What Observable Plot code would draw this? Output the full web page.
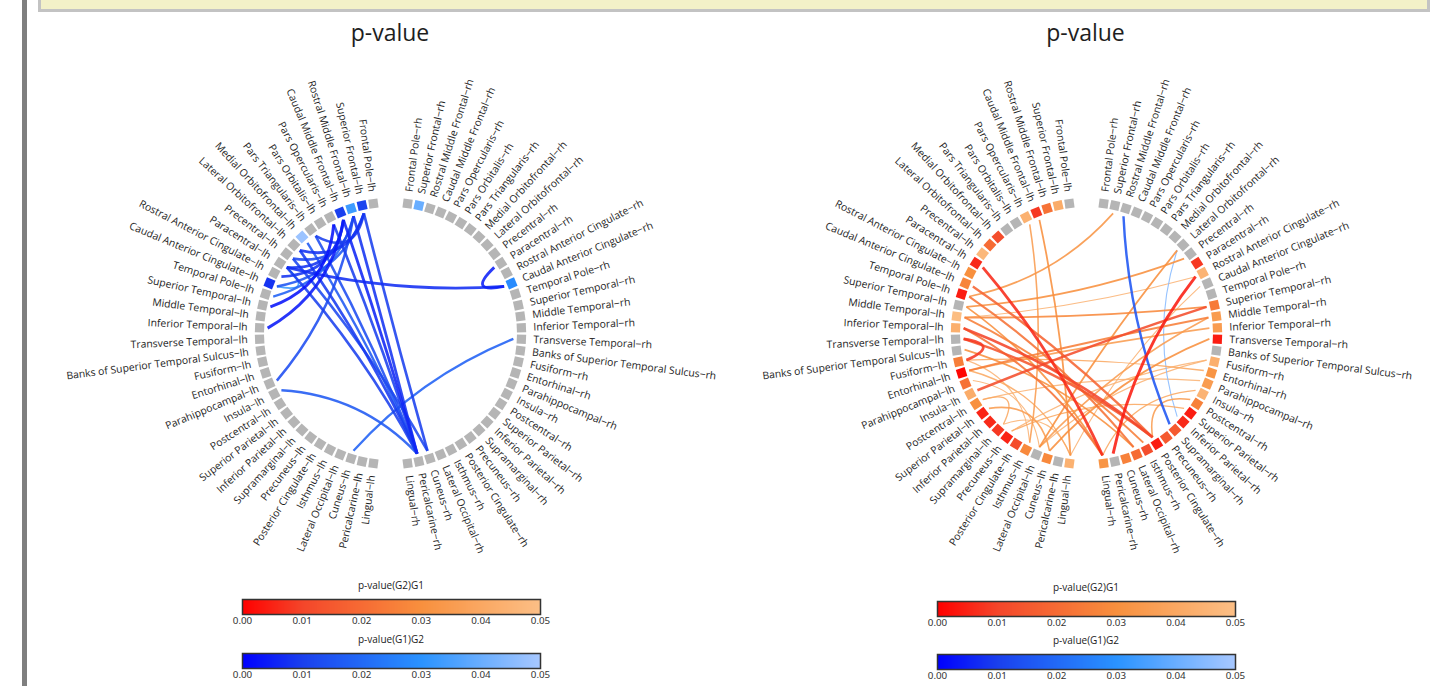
<!DOCTYPE html>
<html><head><meta charset="utf-8">
<script src="https://cdn.jsdelivr.net/npm/d3@7"></script>
<script src="https://cdn.jsdelivr.net/npm/@observablehq/plot@0.6"></script>
<style>
body{margin:0;width:1430px;height:686px;overflow:hidden;background:#fff;font-family:"Open Sans",sans-serif;position:relative}
#sidebar{position:absolute;left:22px;top:0;width:5px;height:686px;background:#7f7f7f}
#topbox{position:absolute;left:38px;top:-10px;width:1392px;height:22px;box-sizing:border-box;background:#f3f1c8;border:3px solid #c3c3c3}
.abs{position:absolute}
.title{position:absolute;width:300px;text-align:center;font-size:23px;color:#1e1e1e;line-height:30px}
.ltitle{position:absolute;width:328px;text-align:center;font-size:10px;color:#222;line-height:12px}
</style></head><body>
<div id="sidebar"></div><div id="topbox"></div>
<div class="title" style="left:240px;top:17px">p-value</div>
<div class="title" style="left:935.5px;top:17px">p-value</div>
<div id="chartL" class="abs" style="left:40px;top:73px"></div>
<div id="chartR" class="abs" style="left:735.5px;top:73px"></div>
<div class="ltitle" style="left:227px;top:579px">p-value(G2)G1</div>
<div id="legL1" class="abs" style="left:227px;top:599px"></div>
<div class="ltitle" style="left:227px;top:633px">p-value(G1)G2</div>
<div id="legL2" class="abs" style="left:227px;top:653px"></div>
<div class="ltitle" style="left:922px;top:581px">p-value(G2)G1</div>
<div id="legR1" class="abs" style="left:922px;top:601px"></div>
<div class="ltitle" style="left:922px;top:634px">p-value(G1)G2</div>
<div id="legR2" class="abs" style="left:922px;top:654px"></div>
<script>
// ---------------- data ----------------
const regions = ["Frontal Pole","Superior Frontal","Rostral Middle Frontal","Caudal Middle Frontal","Pars Opercularis","Pars Orbitalis","Pars Triangularis","Medial Orbitofrontal","Lateral Orbitofrontal","Precentral","Paracentral","Rostral Anterior Cingulate","Caudal Anterior Cingulate","Temporal Pole","Superior Temporal","Middle Temporal","Inferior Temporal","Transverse Temporal","Banks of Superior Temporal Sulcus","Fusiform","Entorhinal","Parahippocampal","Insula","Postcentral","Superior Parietal","Inferior Parietal","Supramarginal","Precuneus","Posterior Cingulate","Isthmus","Lateral Occipital","Cuneus","Pericalcarine","Lingual"];
const hemispheres = ["lh","rh"];
const legendTicks = [0, 0.01, 0.02, 0.03, 0.04, 0.05];
const pStops = [0, 0.01, 0.03, 0.05];
const redStops = ["#ff0000","#f4462a","#f8903e","#fcbf86"];
const blueStops = ["#0000ff","#1a40ee","#2a93ff","#a8c8ff"];

// node p-values (null = not significant), left chart: G1>G2
const leftNodesLh = [null,0.011,0.033,0.010,null,null,null,0.048,null,null,null,null,0.008,null,null,null,null,null,null,null,null,null,null,null,null,null,null,null,null,null,null,null,null,null];
const leftNodesRh = [null,0.040,null,null,null,null,null,null,null,null,null,null,0.028,null,null,null,null,null,null,null,null,null,null,null,null,null,null,null,null,null,null,null,null,null];
const leftNodeDir = "G1>G2";
// right chart: G2>G1
const rightNodesLh = [null,0.042,0.022,0.008,0.044,null,null,0.012,0.020,0.047,0.006,0.030,0.027,0.004,null,0.049,0.043,null,null,0.025,0.001,0.022,0.042,0.030,0.005,0.006,0.008,0.005,0.012,0.028,null,0.028,null,0.044];
const rightNodesRh = [null,null,null,null,null,null,null,null,null,null,0.008,0.045,null,null,0.024,0.035,0.035,0.004,null,0.043,0.032,0.035,0.045,0.026,0.004,0.006,0.015,0.015,0.004,0.012,0.020,0.026,null,0.032];
const rightNodeDir = "G2>G1";

// links: [source, target, p-value, direction]
const leftLinks = [
["Superior Frontal-lh","Cuneus-rh",0.010,"G1>G2"],
["Rostral Middle Frontal-lh","Pericalcarine-rh",0.008,"G1>G2"],
["Caudal Middle Frontal-lh","Pericalcarine-rh",0.006,"G1>G2"],
["Pars Opercularis-lh","Pericalcarine-rh",0.010,"G1>G2"],
["Pars Triangularis-lh","Pericalcarine-rh",0.013,"G1>G2"],
["Medial Orbitofrontal-lh","Pericalcarine-rh",0.016,"G1>G2"],
["Lateral Orbitofrontal-lh","Pericalcarine-rh",0.009,"G1>G2"],
["Precentral-lh","Cuneus-rh",0.012,"G1>G2"],
["Paracentral-lh","Pericalcarine-rh",0.010,"G1>G2"],
["Insula-lh","Pericalcarine-rh",0.016,"G1>G2"],
["Superior Temporal-lh","Pars Opercularis-lh",0.003,"G1>G2"],
["Inferior Temporal-lh","Caudal Middle Frontal-lh",0.004,"G1>G2"],
["Parahippocampal-lh","Rostral Middle Frontal-lh",0.013,"G1>G2"],
["Paracentral-lh","Caudal Anterior Cingulate-rh",0.007,"G1>G2"],
["Caudal Anterior Cingulate-rh","Paracentral-rh",0.005,"G1>G2"],
["Cuneus-lh","Transverse Temporal-rh",0.018,"G1>G2"],
["Caudal Anterior Cingulate-lh","Paracentral-lh",0.032,"G1>G2"],
["Superior Frontal-lh","Lateral Orbitofrontal-lh",0.008,"G1>G2"],
["Superior Frontal-lh","Pars Triangularis-lh",0.010,"G1>G2"],
["Caudal Middle Frontal-lh","Rostral Anterior Cingulate-lh",0.008,"G1>G2"],
["Rostral Middle Frontal-lh","Precentral-lh",0.012,"G1>G2"],
["Caudal Middle Frontal-lh","Paracentral-lh",0.008,"G1>G2"],
["Superior Frontal-lh","Caudal Anterior Cingulate-lh",0.015,"G1>G2"],
["Rostral Middle Frontal-lh","Temporal Pole-lh",0.018,"G1>G2"]
];
const rightLinks = [
["Superior Frontal-rh","Temporal Pole-lh",0.032,"G2>G1"],
["Pars Opercularis-lh","Isthmus-lh",0.035,"G2>G1"],
["Paracentral-lh","Lingual-rh",0.006,"G2>G1"],
["Rostral Anterior Cingulate-rh","Pericalcarine-rh",0.004,"G2>G1"],
["Lateral Orbitofrontal-rh","Lateral Occipital-lh",0.030,"G2>G1"],
["Middle Temporal-lh","Superior Temporal-rh",0.028,"G2>G1"],
["Inferior Temporal-lh","Posterior Cingulate-rh",0.010,"G2>G1"],
["Transverse Temporal-lh","Posterior Cingulate-rh",0.014,"G2>G1"],
["Insula-lh","Superior Temporal-rh",0.012,"G2>G1"],
["Superior Temporal-lh","Precentral-rh",0.030,"G2>G1"],
["Transverse Temporal-lh","Fusiform-lh",0.008,"G2>G1"],
["Caudal Anterior Cingulate-rh","Lingual-lh",0.045,"G2>G1"],
["Middle Temporal-rh","Lateral Occipital-lh",0.035,"G2>G1"],
["Transverse Temporal-rh","Cuneus-lh",0.030,"G2>G1"],
["Fusiform-rh","Lateral Occipital-lh",0.045,"G2>G1"],
["Entorhinal-rh","Fusiform-lh",0.040,"G2>G1"],
["Parahippocampal-rh","Postcentral-lh",0.045,"G2>G1"],
["Insula-rh","Lingual-rh",0.040,"G2>G1"],
["Entorhinal-lh","Lingual-lh",0.040,"G2>G1"],
["Parahippocampal-lh","Lateral Occipital-lh",0.045,"G2>G1"],
["Fusiform-lh","Isthmus-lh",0.045,"G2>G1"],
["Postcentral-lh","Supramarginal-lh",0.040,"G2>G1"],
["Superior Parietal-lh","Cuneus-lh",0.035,"G2>G1"],
["Middle Temporal-lh","Isthmus-rh",0.025,"G2>G1"],
["Inferior Temporal-lh","Lingual-rh",0.022,"G2>G1"],
["Superior Temporal-lh","Lingual-rh",0.030,"G2>G1"],
["Temporal Pole-lh","Lateral Occipital-rh",0.022,"G2>G1"],
["Caudal Anterior Cingulate-lh","Posterior Cingulate-rh",0.018,"G2>G1"],
["Inferior Temporal-rh","Entorhinal-lh",0.035,"G2>G1"],
["Superior Parietal-rh","Precuneus-lh",0.040,"G2>G1"],
["Caudal Middle Frontal-lh","Lingual-lh",0.030,"G2>G1"],
["Rostral Anterior Cingulate-rh","Middle Temporal-lh",0.045,"G2>G1"],
["Supramarginal-lh","Lingual-lh",0.045,"G2>G1"],
["Banks of Superior Temporal Sulcus-lh","Lateral Occipital-rh",0.030,"G2>G1"],
["Postcentral-rh","Posterior Cingulate-rh",0.035,"G2>G1"],
["Entorhinal-lh","Middle Temporal-rh",0.025,"G2>G1"],
["Precuneus-lh","Fusiform-rh",0.045,"G2>G1"],
["Rostral Middle Frontal-rh","Supramarginal-rh",0.015,"G1>G2"],
["Lateral Orbitofrontal-rh","Inferior Parietal-rh",0.045,"G1>G2"]
];

// ---------------- layout ----------------
const W = 700, H = 520, STEP = 5, GAP = 15;
const R_NODE = 131, R_LABEL = 143, R_LINK = 123, BEND = 0.7;
const redInterp = d3.scaleLinear(pStops, redStops).clamp(true);
const blueInterp = d3.scaleLinear(pStops, blueStops).clamp(true);
// one signed scale: negative = G1>G2 (blue), positive = G2>G1 (red)
const signedInterp = t => { const v = t * 0.1 - 0.05; return v < 0 ? blueInterp(-v) : redInterp(v); };
const signed = (p, dir) => dir === "G1>G2" ? -p : p;

function angleOf(name) {
  const hemi = name.slice(-2), i = regions.indexOf(name.slice(0, -3));
  return (hemi === "lh" ? -1 : 1) * (GAP / 2 + STEP * i);
}
function polar(theta, r) {
  const t = theta * Math.PI / 180;
  return [r * Math.sin(t), -r * Math.cos(t)];
}
function buildNodes(lh, rh, dir) {
  const out = [];
  hemispheres.forEach(h => regions.forEach((reg, i) => {
    const name = reg + "-" + h, theta = angleOf(name), p = (h === "lh" ? lh : rh)[i];
    const [x, y] = polar(theta, R_NODE), [lx, ly] = polar(theta, R_LABEL);
    out.push({name, hemi: h, theta, x, y, lx, ly, p, v: p == null ? null : signed(p, dir),
      label: name.replace(/-(lh|rh)$/, "\u2212$1"), rot: h === "lh" ? theta + 90 : theta - 90});
  }));
  return out;
}
function buildLinks(links) {
  return links.map(([s, t, p, dir]) => {
    const [x1, y1] = polar(angleOf(s), R_LINK), [x2, y2] = polar(angleOf(t), R_LINK);
    return {s, t, p, x1, y1, x2, y2, v: signed(p, dir), w: 0.9 + (0.05 - p) * 44};
  }).sort((a, b) => b.p - a.p);
}
function chordCurve(context) {
  let pts = [];
  return {
    areaStart() {}, areaEnd() {},
    lineStart() { pts = []; },
    point(x, y) { pts.push([x, y]); },
    lineEnd() {
      const [[x1, y1], [x2, y2]] = pts, cx = W / 2, cy = H / 2;
      const mx = (x1 + x2) / 2, my = (y1 + y2) / 2;
      context.moveTo(x1, y1);
      context.quadraticCurveTo(cx + BEND * (mx - cx), cy + BEND * (my - cy), x2, y2);
    }
  };
}
function chart(nodes, links) {
  const sig = nodes.filter(d => d.v != null), ns = nodes.filter(d => d.v == null);
  return Plot.plot({
    width: W, height: H, margin: 0,
    style: {background: "transparent", overflow: "visible", maxWidth: "none"},
    x: {domain: [-W / 2, W / 2], axis: null},
    y: {domain: [-H / 2, H / 2], axis: null, reverse: true},
    color: {type: "linear", domain: [-0.05, 0.05], interpolate: signedInterp},
    marks: [
      Plot.link(links, {x1: "x1", y1: "y1", x2: "x2", y2: "y2", stroke: "v", strokeWidth: "w",
        strokeOpacity: 0.88, curve: chordCurve}),
      Plot.dot(ns, {x: "x", y: "y", symbol: "square", r: 5.2, rotate: "theta", fill: "#b5b5b5"}),
      Plot.dot(sig, {x: "x", y: "y", symbol: "square", r: 5.2, rotate: "theta", fill: "v"}),
      Plot.text(nodes.filter(d => d.hemi === "lh"), {x: "lx", y: "ly", text: "label", rotate: "rot",
        textAnchor: "end", fontSize: 10.4, fill: "#1e1e1e", fontFamily: "Open Sans"}),
      Plot.text(nodes.filter(d => d.hemi === "rh"), {x: "lx", y: "ly", text: "label", rotate: "rot",
        textAnchor: "start", fontSize: 10.4, fill: "#1e1e1e", fontFamily: "Open Sans"})
    ]
  });
}
function colorbar(stops) {
  return Plot.plot({
    width: 328, height: 30, marginLeft: 15, marginRight: 15, marginTop: 0, marginBottom: 15,
    style: {background: "transparent", overflow: "visible", maxWidth: "none", fontSize: "9.8px", color: "#333"},
    x: {domain: [0, 0.05], ticks: legendTicks, tickFormat: ".2f", tickSize: 0, tickPadding: 3, label: null},
    y: {domain: [0, 1], axis: null},
    color: {type: "linear", domain: pStops, range: stops},
    marks: [
      Plot.raster({x1: 0, x2: 0.05, y1: 0, y2: 1, width: 300, height: 1, fill: (x, y) => x}),
      Plot.frame({stroke: "#333", strokeWidth: 1.5})
    ]
  });
}
document.getElementById("chartL").append(chart(buildNodes(leftNodesLh, leftNodesRh, leftNodeDir), buildLinks(leftLinks)));
document.getElementById("chartR").append(chart(buildNodes(rightNodesLh, rightNodesRh, rightNodeDir), buildLinks(rightLinks)));
document.getElementById("legL1").append(colorbar(redStops));
document.getElementById("legL2").append(colorbar(blueStops));
document.getElementById("legR1").append(colorbar(redStops));
document.getElementById("legR2").append(colorbar(blueStops));
</script>
</body></html>
